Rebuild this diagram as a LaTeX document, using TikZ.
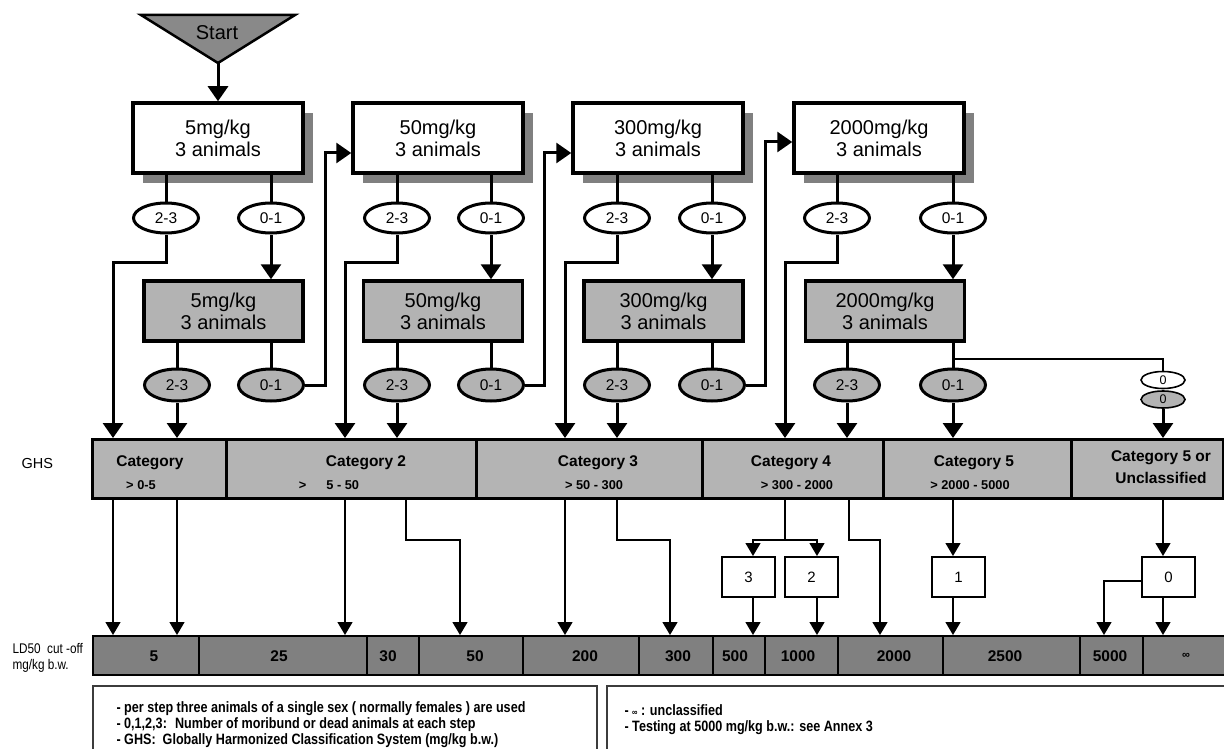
\documentclass[tikz,border=0pt]{standalone}
\usepackage{fontspec}
\setmainfont{Liberation Sans}
\newfontfamily\narrowfont[FakeStretch=0.84]{Liberation Sans}
\usepackage{tikz}
\usepackage{xcolor}
\usetikzlibrary{calc,shapes,shapes.geometric,positioning,shadows,arrows.meta}
\definecolor{shade}{RGB}{128,128,128}
\definecolor{boxgray}{RGB}{179,179,179}
\definecolor{bargray}{RGB}{180,180,180}
\definecolor{ldgray}{RGB}{128,128,128}
\definecolor{startgray}{RGB}{137,137,137}
\definecolor{notegray}{RGB}{60,60,60}

\tikzset{
  dosebox/.style={draw, line width=3.5pt, fill=white, minimum width=170pt, minimum height=70pt,
    align=center, inner sep=0pt, font=\fontsize{20}{22}\selectfont,
    drop shadow={shadow xshift=10pt, shadow yshift=-10pt, fill=shade, opacity=1}},
  redosebox/.style={draw, line width=3.5pt, fill=boxgray, minimum width=159pt, minimum height=60pt,
    align=center, inner sep=0pt, font=\fontsize{20}{22}\selectfont},
  countoval/.style={ellipse, draw, line width=3pt, fill=white, minimum width=65pt, minimum height=30pt,
    inner sep=0pt, font=\fontsize{15.5}{17}\selectfont},
  recountoval/.style={countoval, fill=boxgray, minimum height=32pt},
  zerooval/.style={ellipse, draw, line width=1.6pt, minimum width=44pt, minimum height=17pt,
    inner sep=0pt, font=\fontsize{12.5}{13}\selectfont},
  catcell/.style={draw, line width=3pt, fill=bargray, anchor=north west, minimum height=59pt, inner sep=0pt},
  cattitle/.style={font=\bfseries\fontsize{15.5}{17}\selectfont},
  catrange/.style={font=\bfseries\fontsize{12.8}{14}\selectfont},
  ldcell/.style={draw, line width=2.2pt, fill=ldgray, anchor=north west, minimum height=39pt, inner sep=0pt},
  ldlabel/.style={font=\bfseries\fontsize{15.5}{17}\selectfont},
  countbox/.style={draw, line width=2pt, fill=white, minimum width=53pt, minimum height=40pt,
    font=\fontsize{15}{16}\selectfont},
  notebox/.style={draw=notegray, line width=2pt, anchor=north west, minimum height=100pt},
  notetext/.style={anchor=west, align=left, font=\narrowfont\bfseries\fontsize{15}{16}\selectfont},
  flow/.style={line width=3pt, -{Triangle[width=20pt,length=15pt]}},
  link/.style={line width=3pt},
  thinflow/.style={line width=1.4pt, -{Triangle[width=15pt,length=13pt]}},
  thinlink/.style={line width=1.4pt},
}

\begin{document}
\begin{tikzpicture}[x=1pt,y=-1pt]
  \path[use as bounding box, fill=white] (0,0) rectangle (1224,749);

  % start
  \draw[line width=2.5pt, fill=startgray] (141,15) -- (295,15) -- (218,63) -- cycle;
  \coordinate (apex) at (218,63);
  \node[font=\fontsize{20}{22}\selectfont] (start) at (217,33) {Start};

  % dose steps
  \node[dosebox] (dose1) at (218,138) {5mg/kg\\3 animals};
  \node[dosebox] (dose2) at (438,138) {50mg/kg\\3 animals};
  \node[dosebox] (dose3) at (658,138) {300mg/kg\\3 animals};
  \node[dosebox] (dose4) at (879,138) {2000mg/kg\\3 animals};

  \node[countoval] (many1) at (166,218) {2-3};
  \node[countoval] (few1) at (271,218) {0-1};
  \node[countoval] (many2) at (397,218) {2-3};
  \node[countoval] (few2) at (491,218) {0-1};
  \node[countoval] (many3) at (617,218) {2-3};
  \node[countoval] (few3) at (712,218) {0-1};
  \node[countoval] (many4) at (837,218) {2-3};
  \node[countoval] (few4) at (953,218) {0-1};

  \node[redosebox] (redose1) at (223.5,311) {5mg/kg\\3 animals};
  \node[redosebox] (redose2) at (443,311) {50mg/kg\\3 animals};
  \node[redosebox] (redose3) at (663.5,311) {300mg/kg\\3 animals};
  \node[redosebox] (redose4) at (885,311) {2000mg/kg\\3 animals};

  \node[recountoval] (remany1) at (177,385) {2-3};
  \node[recountoval] (refew1) at (271,385) {0-1};
  \node[recountoval] (remany2) at (397,385) {2-3};
  \node[recountoval] (refew2) at (491,385) {0-1};
  \node[recountoval] (remany3) at (617,385) {2-3};
  \node[recountoval] (refew3) at (712,385) {0-1};
  \node[recountoval] (remany4) at (847,385) {2-3};
  \node[recountoval] (refew4) at (953,385) {0-1};

  \node[zerooval, fill=white] (zero1) at (1163,380) {0};
  \node[zerooval, fill=boxgray] (zero2) at (1163,399.5) {0};

  % GHS categories
  \node[font=\fontsize{14.5}{16}\selectfont, anchor=west] (ghs) at (18,464) {GHS};
  \node[catcell, minimum width=134pt] (cat1) at (91,438) {};
  \node[catcell, minimum width=250pt] (cat2) at (225,438) {};
  \node[catcell, minimum width=226pt] (cat3) at (475,438) {};
  \node[catcell, minimum width=181pt] (cat4) at (701,438) {};
  \node[catcell, minimum width=188pt] (cat5) at (882,438) {};
  \node[catcell, minimum width=152pt] (cat6) at (1070,438) {};

  \node[cattitle] (cat1t) at (150,463) {Category};
  \node[catrange] (cat1r) at (141,485) {>\ 0-5};
  \node[cattitle] (cat2t) at (366,463) {Category 2};
  \node[catrange] (cat2r) at (329,485) {>\hspace{20pt}5 - 50};
  \node[cattitle] (cat3t) at (598,463) {Category 3};
  \node[catrange] (cat3r) at (594,485) {>\ 50 - 300};
  \node[cattitle] (cat4t) at (791,463) {Category 4};
  \node[catrange] (cat4r) at (797,485) {>\ 300 - 2000};
  \node[cattitle] (cat5t) at (974,463) {Category 5};
  \node[catrange] (cat5r) at (970,485) {>\ 2000 - 5000};
  \node[cattitle] (cat6t) at (1161,458) {Category 5 or};
  \node[cattitle] (cat6u) at (1161,478) {Unclassified};

  % LD50 cut-off values
  \node[anchor=west, align=left, font=\narrowfont\fontsize{14}{15.5}\selectfont] (ldname) at (9,658)
    {LD50 \ cut -off\\mg/kg b.w.};
  \foreach \l/\r/\v/\vx [count=\i] in {92/198/5/154, 198/366/25/279, 366/418/30/388, 418/522/50/475,
      522/638/200/585, 638/712/300/678, 712/764/500/735, 764/837/1000/798, 837/942/2000/894,
      942/1079/2500/1005, 1079/1142/5000/1110, 1142/1232/{\fontsize{11}{12}\selectfont ∞}/1186} {
    \node[ldcell, minimum width={(\r-\l)*1pt}] (ld\i) at (\l,635) {};
    \node[ldlabel] (ldv\i) at (\vx,656) {\v};
  }

  % count boxes
  \node[countbox] (n3) at (748.5,577) {3};
  \node[countbox] (n2) at (811.5,577) {2};
  \node[countbox] (n1) at (958.5,577) {1};
  \node[countbox] (n0) at (1168.5,577) {0};
  \coordinate (n3in) at ([xshift=4.5pt]n3.north);
  \coordinate (n3out) at ([xshift=4.5pt]n3.south);
  \coordinate (n2in) at ([xshift=5.5pt]n2.north);
  \coordinate (n2out) at ([xshift=5.5pt]n2.south);
  \coordinate (n1in) at ([xshift=-5.5pt]n1.north);
  \coordinate (n1out) at ([xshift=-5.5pt]n1.south);
  \coordinate (n0in) at ([xshift=-5.5pt]n0.north);
  \coordinate (n0out) at ([xshift=-5.5pt]n0.south);

  % notes
  \node[notebox, minimum width=504pt] (notesA) at (92,685) {};
  \node[notebox, minimum width=630pt] (notesB) at (606,685) {};
  \node[notetext] (notesAtext) at (113,725)
    {- per step three animals of a single sex ( normally females ) are used\\
     - 0,1,2,3: \ Number of moribund or dead animals at each step\\
     - GHS: \ Globally Harmonized Classification System (mg/kg b.w.)};
  \node[notetext] (notesBtext) at (621,720)
    {- {\fontsize{9}{9}\selectfont ∞} : unclassified\\
     - Testing at 5000 mg/kg b.w.: see Annex 3};

  % connectors, upper part
  \draw[flow] (apex) -- (dose1.north);
  \foreach \i in {1,...,4} {
    \draw[link] (dose\i.south -| many\i) -- (many\i.north);
    \draw[link] (dose\i.south -| few\i) -- (few\i.north);
    \draw[flow] (few\i.south) -- (few\i.south |- redose\i.north);
    \draw[link] (redose\i.south -| remany\i) -- (remany\i.north);
    \draw[link] (redose\i.south -| refew\i) -- (refew\i.north);
  }
  \foreach \i/\x in {1/113,2/345,3/565,4/785} {
    \draw[flow] (many\i.south) -- ++(0,28) -| (cat\i.north -| \x,0);
    \draw[flow] (remany\i.south) -- (remany\i.south |- cat\i.north);
  }
  \draw[flow] (refew1.east) -- ++(20,0) |- (dose2.west |- 0,153);
  \draw[flow] (refew2.east) -- ++(19,0) |- (dose3.west |- 0,153);
  \draw[flow] (refew3.east) -- ++(19,0) |- (dose4.west |- 0,142);
  \draw[flow] (refew4.south) -- (refew4.south |- cat5.north);
  \draw[line width=2.5pt] (refew4.north |- 0,359) -| (zero1.north);
  \draw[flow] (zero2.south) -- (zero2.south |- cat6.north);

  % connectors, lower part
  \draw[thinflow] (cat1.south -| 113,0) -- (ld1.north -| 113,0);
  \draw[thinflow] (cat1.south -| 177,0) -- (ld1.north -| 177,0);
  \draw[thinflow] (cat2.south -| 345,0) -- (ld2.north -| 345,0);
  \draw[thinflow] (cat2.south -| 406,0) -- ++(0,40) -| (ld4.north -| 460,0);
  \draw[thinflow] (cat3.south -| 565,0) -- (ld5.north -| 565,0);
  \draw[thinflow] (cat3.south -| 617,0) -- ++(0,40) -| (ld6.north -| 670,0);
  \draw[thinlink] (cat4.south -| 785,0) -- ++(0,40) coordinate (split4);
  \draw[thinflow] (split4) -| (n3in);
  \draw[thinflow] (split4) -| (n2in);
  \draw[thinflow] (cat4.south -| 849,0) -- ++(0,40) -| (ld9.north -| 880,0);
  \draw[thinflow] (cat5.south -| 953,0) -- (n1in);
  \draw[thinflow] (cat6.south -| 1163,0) -- (n0in);
  \draw[thinflow] (n3out) -- (n3out |- ld7.north);
  \draw[thinflow] (n2out) -- (n2out |- ld8.north);
  \draw[thinflow] (n1out) -- (n1out |- ld10.north);
  \draw[thinflow] (n0out) -- (n0out |- ld12.north);
  \draw[thinflow] (n0.west |- 0,581) -| (ld11.north -| 1104,0);
\end{tikzpicture}
\end{document}
